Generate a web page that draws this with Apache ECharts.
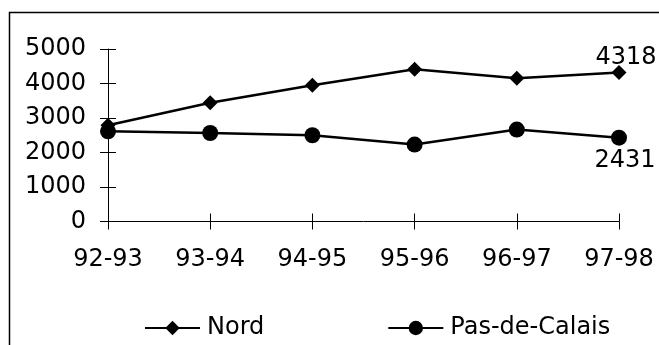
<!DOCTYPE html>
<html>
<head>
<meta charset="utf-8">
<script src="https://cdn.jsdelivr.net/npm/echarts@6/dist/echarts.min.js"></script>
<style>
  html, body { margin: 0; padding: 0; background: #fff; }
  #chart { width: 659px; height: 345px; }
</style>
</head>
<body>
<div id="chart"></div>
<script>
// School years along the x axis
const seasons = ['92-93', '93-94', '94-95', '95-96', '96-97', '97-98'];
// Yearly totals per département
const nord = [2790, 3440, 3950, 4410, 4150, 4318];
const pasDeCalais = [2615, 2565, 2500, 2230, 2665, 2431];
// Value axis range
const yMin = 0;
const yMax = 5000;
const yStep = 1000;

const FONT = 'DejaVu Sans';
const INK = '#000';

// Only the final season carries a value label
function withEndLabel(values, position) {
  return values.map((v, i) => i === values.length - 1
    ? { value: v, label: { show: true, position: position } }
    : v);
}

const chart = echarts.init(document.getElementById('chart'), null, { renderer: 'canvas' });

const baseX = {
  type: 'category',
  data: seasons,
  boundaryGap: false,
  gridIndex: 0
};
const baseY = {
  type: 'value',
  min: yMin,
  max: yMax,
  interval: yStep,
  splitLine: { show: false },
  gridIndex: 0
};

chart.setOption({
  animation: false,
  backgroundColor: '#fff',
  textStyle: { fontFamily: FONT, color: INK },
  graphic: [{
    type: 'rect',
    shape: { x: 9.5, y: 12.5, width: 700, height: 400 },
    style: { fill: 'none', stroke: INK, lineWidth: 1.5 },
    silent: true
  }],
  grid: { left: 108, right: 40, top: 49, bottom: 123.5, containLabel: false },
  xAxis: [
    Object.assign({}, baseX, {
      axisLine: { lineStyle: { color: INK, width: 1 } },
      axisTick: { show: true, inside: false, length: 8, alignWithLabel: true, lineStyle: { color: INK } },
      axisLabel: { color: INK, fontFamily: FONT, fontSize: 24, margin: 26 }
    }),
    // inward half of the crossing tick marks
    Object.assign({}, baseX, {
      position: 'bottom',
      axisLine: { show: false, onZero: false },
      axisTick: { show: true, inside: true, length: 8, lineStyle: { color: INK } },
      axisLabel: { show: false }
    })
  ],
  yAxis: [
    Object.assign({}, baseY, {
      axisLine: { show: true, lineStyle: { color: INK, width: 1 } },
      axisTick: { show: true, inside: false, length: 8, lineStyle: { color: INK } },
      axisLabel: { color: INK, fontFamily: FONT, fontSize: 24, margin: 22, formatter: (v) => String(v) }
    }),
    Object.assign({}, baseY, {
      position: 'left',
      axisLine: { show: false, onZero: false },
      axisTick: { show: true, inside: true, length: 8, lineStyle: { color: INK } },
      axisLabel: { show: false }
    })
  ],
  legend: {
    left: 139,
    top: 311,
    itemWidth: 55,
    itemHeight: 18,
    itemGap: 123,
    textStyle: { color: INK, fontFamily: FONT, fontSize: 24, padding: [0, 0, 0, 2] },
    data: ['Nord', 'Pas-de-Calais']
  },
  series: [
    {
      name: 'Nord',
      type: 'line',
      data: withEndLabel(nord, 'top'),
      symbol: 'diamond',
      symbolSize: 15,
      showAllSymbol: true,
      lineStyle: { color: INK, width: 2.5 },
      itemStyle: { color: INK },
      label: { color: INK, fontFamily: FONT, fontSize: 24, offset: [7, 10] }
    },
    {
      name: 'Pas-de-Calais',
      type: 'line',
      data: withEndLabel(pasDeCalais, 'bottom'),
      symbol: 'circle',
      symbolSize: 16,
      showAllSymbol: true,
      lineStyle: { color: INK, width: 2.5 },
      itemStyle: { color: INK },
      label: { color: INK, fontFamily: FONT, fontSize: 24, offset: [6, -2] }
    }
  ]
});
</script>
</body>
</html>
